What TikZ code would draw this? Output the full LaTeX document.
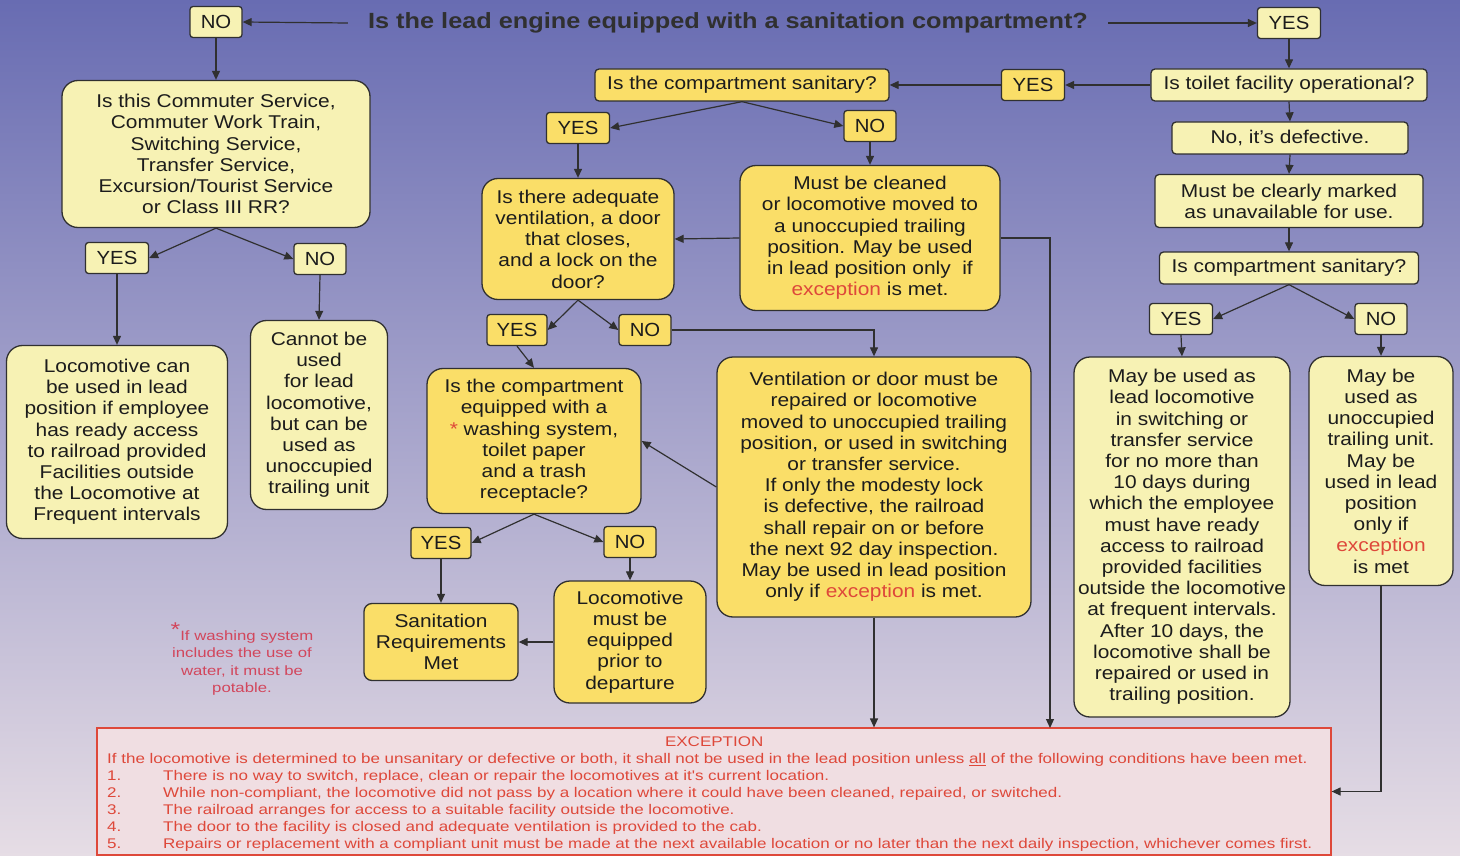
\documentclass[tikz,border=0pt]{standalone}
\usepackage{fontspec}
\setmainfont{Liberation Sans}[FakeStretch=1.13]
\newfontfamily\titlefont{Liberation Sans}[FakeStretch=1.15]
\newfontfamily\notefont{Liberation Sans}[FakeStretch=1.24]
\newfontfamily\excfont{Liberation Sans}[FakeStretch=1.215]
\newfontfamily\tagfont{Liberation Sans}[FakeStretch=1.07]
\usetikzlibrary{arrows.meta}
\definecolor{bgtop}{RGB}{104,108,178}
\definecolor{bgmid}{RGB}{150,182,226}
\definecolor{bgbot}{RGB}{230,221,229}
\definecolor{pale}{RGB}{247,242,180}
\definecolor{gold}{RGB}{250,222,104}
\definecolor{ink}{RGB}{48,48,48}
\definecolor{txt}{RGB}{28,28,28}
\definecolor{exred}{RGB}{222,72,58}
\definecolor{notered}{RGB}{210,70,92}
\definecolor{expink}{RGB}{240,222,226}
\def\exc{{\color{exred}exception}}
\def\boxfont{\fontsize{18.5}{21.2}\selectfont}
\tikzset{
 arr/.style={draw=ink, line width=1.2pt, -{Triangle[length=9pt,width=8pt]}},
 tag/.style={draw=ink, line width=1.3pt, rounded corners=3pt, inner sep=0pt, font=\tagfont\fontsize{19}{22}\selectfont, text=txt, minimum height=31pt},
 yestag/.style={tag, minimum width=63pt},
 notag/.style={tag, minimum width=52pt},
 qbox/.style={draw=ink, line width=1.3pt, rounded corners=16pt, inner sep=0pt, align=center, font=\boxfont, text=txt},
 flat/.style={qbox, rounded corners=4pt}
}

\begin{document}
\begin{tikzpicture}[x=1pt, y=-1pt]
 	\useasboundingbox (0,0) rectangle (1460,856);
 	\shade [top color=bgtop, middle color=bgmid, bottom color=bgbot] (0,0) rectangle (1460,856);

 	\node[font=\titlefont\bfseries\fontsize{22}{24}\selectfont, text=ink, inner xsep=20pt] (title) at (728,23) {Is the lead engine equipped with a sanitation compartment?};
 	\node[notag, fill=pale] (no0) at (216,22) {NO};
 	\node[yestag, fill=pale] (yes0) at (1289,23) {YES};

 	\node[qbox, fill=pale, minimum width=308pt, minimum height=147pt] (q1) at (216,154) {Is this Commuter Service,\\ Commuter Work Train,\\ Switching Service,\\ Transfer Service,\\ Excursion/Tourist Service\\ or Class III RR?};
 	\node[yestag, fill=pale] (yes1) at (117,258) {YES};
 	\node[notag, fill=pale] (no1) at (320,259) {NO};
 	\node[qbox, fill=pale, minimum width=221pt, minimum height=193pt] (lead1) at (117,442) {Locomotive can\\ be used in lead\\ position if employee\\ has ready access\\ to railroad provided\\ Facilities outside\\ the Locomotive at\\ Frequent intervals};
 	\node[qbox, fill=pale, minimum width=137pt, minimum height=189pt] (trail1) at (319,415) {Cannot be\\ used\\ for lead\\ locomotive,\\ but can be\\ used as\\ unoccupied\\ trailing unit};
 	\node[align=center, text=notered, font=\notefont\fontsize{13.5}{17.5}\selectfont, inner sep=0pt] (note) at (242,659) {\raisebox{4pt}{\fontsize{20}{20}\selectfont *}If washing system\\ includes the use of\\ water, it must be\\ potable.};

 	\node[flat, fill=pale, minimum width=276pt, minimum height=32pt] (oper) at (1289,85) {Is toilet facility operational?};
 	\node[yestag, fill=gold] (yes3) at (1033,85) {YES};
 	\node[flat, fill=gold, minimum width=294pt, minimum height=32pt] (san1) at (742,85) {Is the compartment sanitary?};
 	\node[yestag, fill=gold] (yes4) at (578,128) {YES};
 	\node[notag, fill=gold] (no4) at (870,126) {NO};
 	\node[qbox, fill=gold, minimum width=192pt, minimum height=121pt] (door) at (578,239) {Is there adequate\\ ventilation, a door\\ that closes,\\ and a lock on the\\ door?};
 	\node[qbox, fill=gold, minimum width=260pt, minimum height=145pt] (clean) at (870,238) {Must be cleaned\\ or locomotive moved to\\ a unoccupied trailing\\ position. May be used\\ in lead position only\ \ if\\ \exc{} is met.};
 	\node[yestag, fill=gold, minimum width=60pt] (yes5) at (517,330) {YES};
 	\node[notag, fill=gold] (no5) at (645,330) {NO};
 	\node[qbox, fill=gold, minimum width=214pt, minimum height=145pt] (equip) at (534,441) {Is the compartment\\ equipped with a\\ {\color{exred}*} washing system,\\ toilet paper\\ and a trash\\ receptacle?};
 	\node[qbox, fill=gold, minimum width=314pt, minimum height=260pt] (repair) at (874,487) {Ventilation or door must be\\ repaired or locomotive\\ moved to unoccupied trailing\\ position, or used in switching\\ or transfer service.\\ If only the modesty lock\\ is defective, the railroad\\ shall repair on or before\\ the next 92 day inspection.\\ May be used in lead position\\ only if \exc{} is met.};
 	\node[yestag, fill=gold, minimum width=60pt] (yes6) at (441,543) {YES};
 	\node[notag, fill=gold] (no6) at (630,542) {NO};
 	\node[flat, fill=gold, minimum width=154pt, minimum height=77pt, rounded corners=8pt] (met) at (441,642) {Sanitation\\ Requirements\\ Met};
 	\node[qbox, fill=gold, minimum width=152pt, minimum height=122pt] (prior) at (630,642) {Locomotive\\ must be\\ equipped\\ prior to\\ departure};

 	\node[flat, fill=pale, minimum width=236pt, minimum height=32pt] (defect) at (1290,138) {No, it’s defective.};
 	\node[flat, fill=pale, minimum width=268pt, minimum height=53pt] (marked) at (1289,201) {Must be clearly marked\\ as unavailable for use.};
 	\node[flat, fill=pale, minimum width=259pt, minimum height=32pt] (san2) at (1289,268) {Is compartment sanitary?};
 	\node[yestag, fill=pale] (yes7) at (1181,319) {YES};
 	\node[notag, fill=pale] (no7) at (1381,319) {NO};
 	\node[qbox, fill=pale, minimum width=216pt, minimum height=360pt] (ten) at (1182,537) {May be used as\\ lead locomotive\\ in switching or\\ transfer service\\ for no more than\\ 10 days during\\ which the employee\\ must have ready\\ access to railroad\\ provided facilities\\ outside the locomotive\\ at frequent intervals.\\ After 10 days, the\\ locomotive shall be\\ repaired or used in\\ trailing position.};
 	\node[qbox, fill=pale, minimum width=144pt, minimum height=229pt] (unocc) at (1381,471) {May be\\ used as\\ unoccupied\\ trailing unit.\\ May be\\ used in lead\\ position\\ only if\\ \exc{}\\ is met};

 	\node[draw=exred, fill=expink, line width=1.2pt, minimum width=1234pt, minimum height=127pt, inner sep=0pt] (excbox) at (714,791.5) {};
 	\node[anchor=north west, align=left, inner sep=0pt, text=exred, font=\excfont\fontsize{14}{17}\selectfont, text width=1214pt] (exctxt) at (107,737) {\makebox[1214pt]{EXCEPTION}\\
 	If the locomotive is determined to be unsanitary or defective or both, it shall not be used in the lead position unless \underline{all} of the following conditions have been met.\\
 	\makebox[56pt][l]{1.}There is no way to switch, replace, clean or repair the locomotives at it's current location.\\
 	\makebox[56pt][l]{2.}While non-compliant, the locomotive did not pass by a location where it could have been cleaned, repaired, or switched.\\
 	\makebox[56pt][l]{3.}The railroad arranges for access to a suitable facility outside the locomotive.\\
 	\makebox[56pt][l]{4.}The door to the facility is closed and adequate ventilation is provided to the cab.\\
 	\makebox[56pt][l]{5.}Repairs or replacement with a compliant unit must be made at the next available location or no later than the next daily inspection, whichever comes first.};
 	\coordinate (excin) at (1050,728);

 	\draw[arr] (title.west) -- (no0.east);
 	\draw[arr] (title.east) -- (yes0.west);
 	\draw[arr] (no0.south) -- (q1.north);
 	\draw[arr] (q1.south) -- (yes1.east);
 	\draw[arr] (q1.south) -- (no1.west);
 	\draw[arr] (yes1.south) -- (lead1.north);
 	\draw[arr] (no1.south) -- (trail1.north);
 	\draw[arr] (yes0.south) -- (oper.north);
 	\draw[arr] (oper.west) -- (yes3.east);
 	\draw[arr] (yes3.west) -- (san1.east);
 	\draw[arr] (san1.south) -- (yes4.east);
 	\draw[arr] (san1.south) -- (no4.west);
 	\draw[arr] (yes4.south) -- (door.north);
 	\draw[arr] (no4.south) -- (clean.north);
 	\draw[arr] (clean.west) -- (door.east);
 	\draw[arr] (clean.east) -| (excin);
 	\draw[arr] (door.south) -- (yes5.east);
 	\draw[arr] (door.south) -- (no5.west);
 	\draw[arr] (no5.east) -| (repair.north);
 	\draw[arr] (yes5.south) -- (equip.north);
 	\draw[arr] (repair.west) -- (equip.east);
 	\draw[arr] (repair.south) -- (repair.south |- excbox.north);
 	\draw[arr] (equip.south) -- (yes6.east);
 	\draw[arr] (equip.south) -- (no6.west);
 	\draw[arr] (yes6.south) -- (met.north);
 	\draw[arr] (no6.south) -- (prior.north);
 	\draw[arr] (prior.west) -- (met.east);
 	\draw[arr] (oper.south) -- (defect.north);
 	\draw[arr] (defect.south) -- (marked.north);
 	\draw[arr] (marked.south) -- (san2.north);
 	\draw[arr] (san2.south) -- (yes7.east);
 	\draw[arr] (san2.south) -- (no7.west);
 	\draw[arr] (yes7.south) -- (ten.north);
 	\draw[arr] (no7.south) -- (unocc.north);
 	\draw[arr] (unocc.south) |- (excbox.east);
 	\end{tikzpicture}
\end{document}
